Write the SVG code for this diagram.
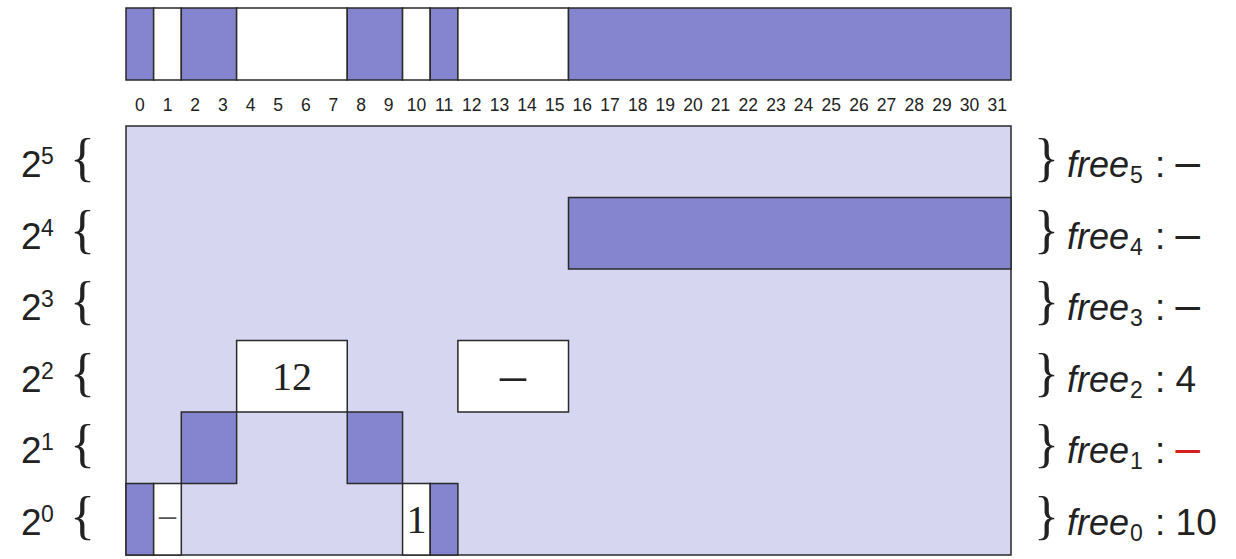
<svg xmlns="http://www.w3.org/2000/svg" width="1236" height="559" viewBox="0 0 1236 559">
<style>
.b{fill:#8585CF;stroke:#2a2a2a;stroke-width:1.5}
.w{fill:#ffffff;stroke:#2a2a2a;stroke-width:1.5}
.l{fill:#D6D6F1;stroke:#2a2a2a;stroke-width:1.5}
.idx{font-family:"Liberation Sans",Arial,sans-serif;font-size:17.5px;fill:#222;text-anchor:middle}
.big{font-family:"Liberation Sans",Arial,sans-serif;font-size:37px;fill:#222}
.sup{font-family:"Liberation Sans",Arial,sans-serif;font-size:23px;fill:#222}
.br{font-family:"Liberation Serif","Times New Roman",serif;font-size:52px;fill:#222}
.it{font-family:"Liberation Sans",Arial,sans-serif;font-size:36px;font-style:italic;fill:#222}
.cell{font-family:"Liberation Serif","Times New Roman",serif;font-size:40px;fill:#222;text-anchor:middle}
.d{font-size:44px}
</style>
<g id="memory">
<rect class="b" x="126" y="8" width="27.66" height="72"/>
<rect class="w" x="153.66" y="8" width="27.66" height="72"/>
<rect class="b" x="181.31" y="8" width="55.31" height="72"/>
<rect class="w" x="236.63" y="8" width="110.63" height="72"/>
<rect class="b" x="347.25" y="8" width="55.31" height="72"/>
<rect class="w" x="402.56" y="8" width="27.66" height="72"/>
<rect class="b" x="430.22" y="8" width="27.66" height="72"/>
<rect class="w" x="457.88" y="8" width="110.63" height="72"/>
<rect class="b" x="568.5" y="8" width="442.5" height="72"/>
</g>
<g id="indices">
<text class="idx" x="139.8" y="111">0</text>
<text class="idx" x="167.5" y="111">1</text>
<text class="idx" x="195.1" y="111">2</text>
<text class="idx" x="222.8" y="111">3</text>
<text class="idx" x="250.5" y="111">4</text>
<text class="idx" x="278.1" y="111">5</text>
<text class="idx" x="305.8" y="111">6</text>
<text class="idx" x="333.4" y="111">7</text>
<text class="idx" x="361.1" y="111">8</text>
<text class="idx" x="388.7" y="111">9</text>
<text class="idx" x="416.4" y="111">10</text>
<text class="idx" x="444.1" y="111">11</text>
<text class="idx" x="471.7" y="111">12</text>
<text class="idx" x="499.4" y="111">13</text>
<text class="idx" x="527.0" y="111">14</text>
<text class="idx" x="554.7" y="111">15</text>
<text class="idx" x="582.3" y="111">16</text>
<text class="idx" x="610.0" y="111">17</text>
<text class="idx" x="637.7" y="111">18</text>
<text class="idx" x="665.3" y="111">19</text>
<text class="idx" x="693.0" y="111">20</text>
<text class="idx" x="720.6" y="111">21</text>
<text class="idx" x="748.3" y="111">22</text>
<text class="idx" x="775.9" y="111">23</text>
<text class="idx" x="803.6" y="111">24</text>
<text class="idx" x="831.3" y="111">25</text>
<text class="idx" x="858.9" y="111">26</text>
<text class="idx" x="886.6" y="111">27</text>
<text class="idx" x="914.2" y="111">28</text>
<text class="idx" x="941.9" y="111">29</text>
<text class="idx" x="969.5" y="111">30</text>
<text class="idx" x="997.2" y="111">31</text>
</g>
<g id="grid">
<rect class="l" x="126" y="126" width="885" height="429"/>
<rect class="b" x="568.5" y="197.5" width="442.5" height="71.5"/>
<rect class="w" x="236.63" y="340.5" width="110.63" height="71.5"/>
<rect class="w" x="457.88" y="340.5" width="110.63" height="71.5"/>
<rect class="b" x="181.31" y="412" width="55.31" height="71.5"/>
<rect class="b" x="347.25" y="412" width="55.31" height="71.5"/>
<rect class="b" x="126" y="483.5" width="27.66" height="71.5"/>
<rect class="w" x="153.66" y="483.5" width="27.66" height="71.5"/>
<rect class="w" x="402.56" y="483.5" width="27.66" height="71.5"/>
<rect class="b" x="430.22" y="483.5" width="27.66" height="71.5"/>
<text class="cell" x="292" y="390">12</text>
<text class="cell" x="513" y="392" style="font-size:52px">–</text>
<text class="cell" x="167.5" y="526" style="font-size:34px;fill:#555">–</text>
<text class="cell" x="416.4" y="533">1</text>
</g>
<g id="left-labels">
<text class="big" x="21" y="177">2</text><text class="sup" x="41" y="164">5</text><text class="br" x="70" y="175">{</text>
<text class="big" x="21" y="248.5">2</text><text class="sup" x="41" y="235.5">4</text><text class="br" x="70" y="246.5">{</text>
<text class="big" x="21" y="320">2</text><text class="sup" x="41" y="307">3</text><text class="br" x="70" y="318">{</text>
<text class="big" x="21" y="391.5">2</text><text class="sup" x="41" y="378.5">2</text><text class="br" x="70" y="389.5">{</text>
<text class="big" x="21" y="463">2</text><text class="sup" x="41" y="450">1</text><text class="br" x="70" y="461">{</text>
<text class="big" x="21" y="534.5">2</text><text class="sup" x="41" y="521.5">0</text><text class="br" x="70" y="532.5">{</text>
</g>
<g id="right-labels">
<text class="br" x="1034" y="175">}</text><text class="it" x="1067" y="177">free</text><text class="sup" x="1130" y="183">5</text><text class="big" x="1155" y="177">: <tspan class="d">–</tspan></text>
<text class="br" x="1034" y="246.5">}</text><text class="it" x="1067" y="248.5">free</text><text class="sup" x="1130" y="254.5">4</text><text class="big" x="1155" y="248.5">: <tspan class="d">–</tspan></text>
<text class="br" x="1034" y="318">}</text><text class="it" x="1067" y="320">free</text><text class="sup" x="1130" y="326">3</text><text class="big" x="1155" y="320">: <tspan class="d">–</tspan></text>
<text class="br" x="1034" y="389.5">}</text><text class="it" x="1067" y="391.5">free</text><text class="sup" x="1130" y="397.5">2</text><text class="big" x="1155" y="391.5">: 4</text>
<text class="br" x="1034" y="461">}</text><text class="it" x="1067" y="463">free</text><text class="sup" x="1130" y="469">1</text><text class="big" x="1155" y="463">: <tspan class="d" fill="#d42020">–</tspan></text>
<text class="br" x="1034" y="532.5">}</text><text class="it" x="1067" y="534.5">free</text><text class="sup" x="1130" y="540.5">0</text><text class="big" x="1155" y="534.5">: 10</text>
</g>
</svg>
